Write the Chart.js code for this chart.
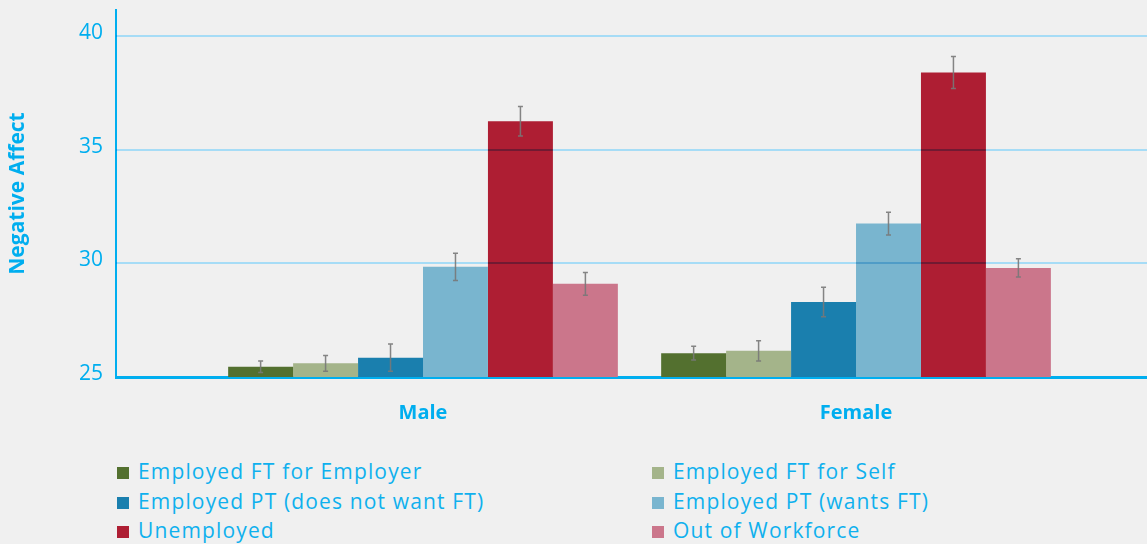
<!DOCTYPE html>
<html>
<head>
<meta charset="utf-8">
<script src="https://cdn.jsdelivr.net/npm/chart.js@4"></script>
<style>
html, body { margin: 0; padding: 0; background: #f0f0f0; }
#wrap { position: relative; width: 1147px; height: 544px; overflow: hidden; }
#chart1 { position: absolute; left: 0; top: 0; }
#legend { position: absolute; left: 117px; top: 457px; margin: 0; padding: 0; list-style: none;
  display: grid; grid-template-columns: 535px 420px; }
#legend li { font: 21px "Open Sans", sans-serif; letter-spacing: 1.15px; color: #0fb0ee; height: 29.5px; line-height: 29.5px; white-space: nowrap; }
#legend li span { display: inline-block; width: 12px; height: 12px; margin-right: 9px; vertical-align: 0px; }
</style>
</head>
<body>
<div id="wrap">
  <canvas id="chart1" width="1147" height="440"></canvas>
  <ul id="legend"></ul>
</div>
<script>
'use strict';

var categories = ['Male', 'Female'];
var seriesNames = ['Employed FT for Employer', 'Employed FT for Self', 'Employed PT (does not want FT)',
	'Employed PT (wants FT)', 'Unemployed', 'Out of Workforce'];
var maleValues = [25.45, 25.6, 25.85, 29.85, 36.25, 29.1];
var femaleValues = [26.05, 26.15, 28.3, 31.75, 38.4, 29.8];
var maleErrors = [0.25, 0.35, 0.6, 0.6, 0.65, 0.5];
var femaleErrors = [0.3, 0.45, 0.65, 0.5, 0.7, 0.4];
var yTicks = [25, 30, 35, 40];
var COLORS = ['#53702f', '#a4b48a', '#1a7fae', '#79b5cf', '#ae1e33', '#cb768b'];
var CYAN = '#00aeef';

// gridlines over the bars (multiply) and error bars
var overlayPlugin = {
	id: 'overlay',
	afterDatasetsDraw: function(chart) {
		var ctx = chart.ctx;
		var area = chart.chartArea;
		var yScale = chart.scales.y;
		ctx.save();
		ctx.globalCompositeOperation = 'multiply';
		ctx.strokeStyle = '#a6dcf6';
		ctx.lineWidth = 2;
		yTicks.forEach(function(v) {
			if (v <= yScale.min) return;
			var y = Math.round(yScale.getPixelForValue(v));
			ctx.beginPath();
			ctx.moveTo(area.left, y);
			ctx.lineTo(area.right, y);
			ctx.stroke();
		});
		ctx.restore();

		ctx.save();
		ctx.strokeStyle = 'rgba(120,120,120,0.9)';
		ctx.lineWidth = 1.5;
		chart.data.datasets.forEach(function(ds, i) {
			var meta = chart.getDatasetMeta(i);
			meta.data.forEach(function(bar, j) {
				var v = ds.data[j].y, e = ds.err[j];
				var y1 = yScale.getPixelForValue(v + e);
				var y2 = yScale.getPixelForValue(v - e);
				ctx.beginPath();
				ctx.moveTo(bar.x, y1);
				ctx.lineTo(bar.x, y2);
				ctx.moveTo(bar.x - 2.5, y1);
				ctx.lineTo(bar.x + 2.5, y1);
				ctx.moveTo(bar.x - 2.5, y2);
				ctx.lineTo(bar.x + 2.5, y2);
				ctx.stroke();
			});
		});
		ctx.restore();
	}
};

var datasets = seriesNames.map(function(name, i) {
	return {
		label: name,
		data: [{x: 0, y: maleValues[i]}, {x: 1, y: femaleValues[i]}],
		err: [maleErrors[i], femaleErrors[i]],
		backgroundColor: COLORS[i],
		base: 25,
		categoryPercentage: 0.9,
		barPercentage: 1.0
	};
});

var ctx = document.getElementById('chart1').getContext('2d');
var chart = new Chart(ctx, {
	type: 'bar',
	data: { datasets: datasets },
	options: {
		responsive: false,
		animation: false,
		layout: { padding: { top: 10, left: 0, right: 0, bottom: 0 } },
		plugins: { legend: { display: false }, tooltip: { enabled: false } },
		scales: {
			x: {
				type: 'linear',
				offset: false,
				min: -0.709,
				max: 1.672,
				z: 1,
				afterBuildTicks: function(s) { s.ticks = categories.map(function(c, i) { return {value: i}; }); },
				afterFit: function(s) { s.height = 63; s.paddingLeft = 0; s.paddingRight = 0; },
				grid: { display: false, drawTicks: false, offset: false },
				border: { display: true, color: CYAN, width: 3 },
				ticks: {
					callback: function(v) { return categories[v]; },
					color: CYAN,
					padding: 24,
					font: { family: '"Open Sans", sans-serif', size: 20, weight: 'bold' }
				}
			},
			y: {
				min: 25,
				max: 41.15,
				afterBuildTicks: function(s) { s.ticks = yTicks.map(function(v) { return {value: v}; }); },
				afterFit: function(s) { s.width = 116; s.paddingTop = 0; s.paddingBottom = 0; },
				grid: { display: false, drawTicks: false },
				border: { display: true, color: CYAN, width: 2 },
				ticks: {
					color: CYAN,
					padding: 13,
					labelOffset: -3,
					font: { family: '"Open Sans", sans-serif', size: 21 }
				},
				title: {
					display: true,
					text: 'Negative Affect',
					color: CYAN,
					padding: { top: 5, bottom: 0 },
					font: { family: '"Open Sans", sans-serif', size: 21, weight: 'bold' }
				}
			}
		}
	},
	plugins: [overlayPlugin]
});

var legendEl = document.getElementById('legend');
chart.data.datasets.forEach(function(ds) {
	var li = document.createElement('li');
	li.innerHTML = '<span style="background:' + ds.backgroundColor + '"></span>' + ds.label;
	legendEl.appendChild(li);
});
</script>
</body>
</html>
